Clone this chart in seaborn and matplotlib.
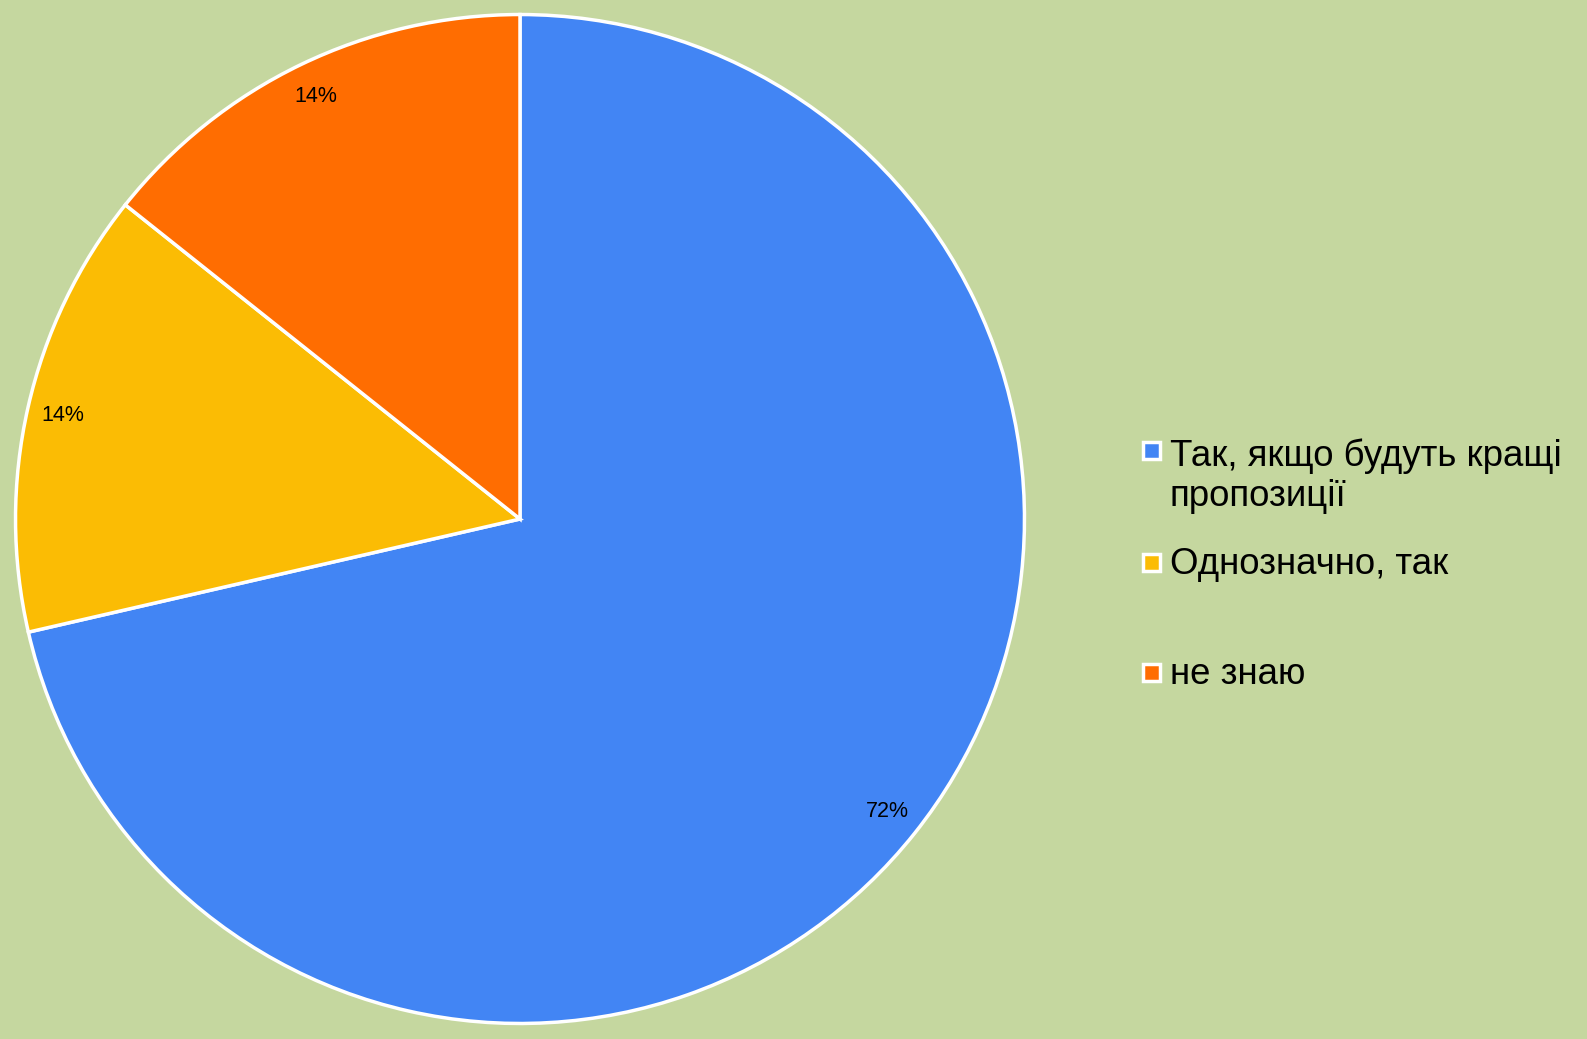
import matplotlib.pyplot as plt
import seaborn as sns
from matplotlib.patches import Rectangle

# shares, labels as printed on the chart
categories = ["Так, якщо будуть кращі\nпропозиції", "Однозначно, так", "не знаю"]
shares = [71.4, 14.3, 14.3]
pct_labels = ["72%", "14%", "14%"]
colors = ["#4285F4", "#FBBC04", "#FF6D01"]

sns.set_style("white")
plt.rcParams['font.family'] = ['Liberation Sans', 'DejaVu Sans']

W, H = 1587, 1039
bg = "#C5D79F"
fig = plt.figure(figsize=(W / 100, H / 100), dpi=100, facecolor=bg)

# pie centre at (520, 519) px, radius 507 px
cx, cy, r = 520, 519, 507
ax = fig.add_axes([(cx - r) / W, (H - cy - r) / H, 2 * r / W, 2 * r / H])
ax.set_facecolor(bg)

it = iter(pct_labels)
wedges, _, autotexts = ax.pie(
    shares, colors=sns.color_palette(colors), startangle=90, counterclock=False,
    autopct=lambda p: next(it), pctdistance=0.93,
    wedgeprops=dict(edgecolor="white", linewidth=2.5),
    textprops=dict(fontsize=15.5, color="black"),
)
ax.set_xlim(-1.005, 1.005)
ax.set_ylim(-1.005, 1.005)
ax.set_aspect("equal")
ax.axis("off")

# legend drawn by hand so the marker sits on the first line of each label
fs = 26.4
line_px = 1.2 * fs * 100 / 72
legend_y = [450, 562, 672]
for lab, col, py in zip(categories, colors, legend_y):
    fig.patches.append(Rectangle(((1143) / W, (H - py - 9) / H), 17 / W, 17 / H,
                                 transform=fig.transFigure, facecolor=col,
                                 edgecolor="white", linewidth=2.5))
    n_extra = lab.count("\n")
    base = py + 12 + n_extra * line_px
    fig.text(1170 / W, (H - base) / H, lab, fontsize=fs, va="baseline",
             ha="left", color="black", linespacing=1.2)

fig.savefig("out.png", dpi=100, facecolor=bg)
